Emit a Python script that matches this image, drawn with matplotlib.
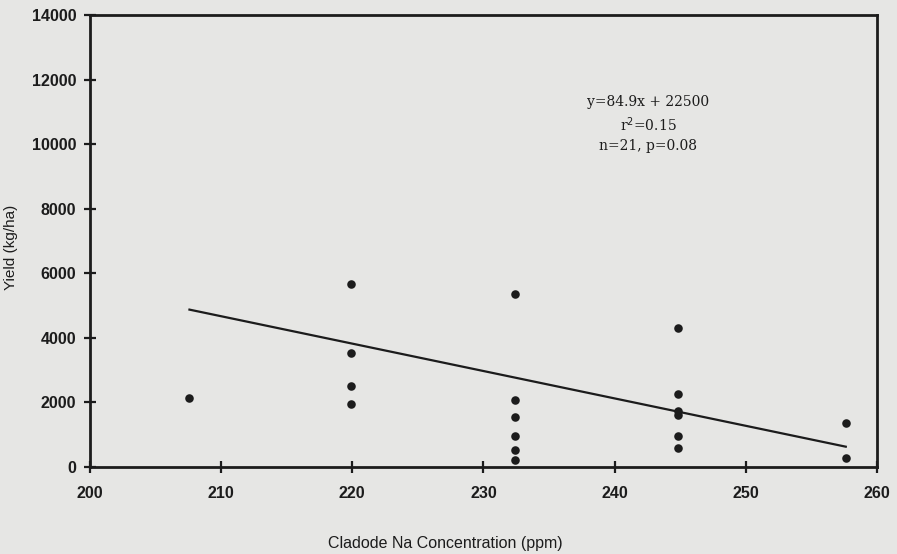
import matplotlib
matplotlib.use('Agg')
import matplotlib.pyplot as plt
import numpy as np

# Cladode Na (ppm) vs fruit yield (kg/ha)
na_conc = [207.6,
           219.9, 219.9, 219.9, 219.9,
           232.4, 232.4, 232.4, 232.4, 232.4, 232.4,
           244.8, 244.8, 244.8, 244.8, 244.8, 244.8,
           257.6, 257.6]
yield_kg = [2130,
            5680, 3520, 2500, 1940,
            5370, 2070, 1560, 950, 520, 230,
            4300, 2250, 1730, 1610, 960, 580,
            1350, 280]

# regression printed on the figure
slope = -84.9
intercept = 22500
fit_text = 'y=84.9x + 22500\nr$^2$=0.15\nn=21, p=0.08'

x_ticks = [200, 210, 220, 230, 240, 250, 260]
y_ticks = [0, 2000, 4000, 6000, 8000, 10000, 12000, 14000]

ink = '#1c1c1c'
paper = '#e6e6e4'

fig = plt.figure(figsize=(8.97, 5.54), dpi=100, facecolor=paper)
ax = fig.add_axes([0.100, 0.157, 0.878, 0.816])
ax.set_facecolor(paper)

ax.scatter(na_conc, yield_kg, s=38, color=ink, zorder=3, linewidths=0)

# fitted line across the data range
xf = np.array([min(na_conc), max(na_conc)])
ax.plot(xf, slope * xf + intercept, color=ink, lw=1.6, zorder=2)

ax.set_xlim(200, 260)
ax.set_ylim(0, 14000)
ax.set_xticks(x_ticks)
ax.set_yticks(y_ticks)

for sp in ax.spines.values():
    sp.set_linewidth(2.0)
    sp.set_color(ink)

ax.tick_params(direction='inout', length=8.5, width=1.6, color=ink,
               labelcolor=ink, top=False, right=False)
ax.tick_params(axis='y', pad=5.5)
ax.tick_params(axis='x', pad=9.5)
for lab in ax.get_xticklabels() + ax.get_yticklabels():
    lab.set_fontfamily('Liberation Sans')
    lab.set_fontweight('bold')
    lab.set_fontsize(11.5)

ax.set_xlabel('Cladode Na Concentration (ppm)', fontsize=11.5, family='Liberation Sans', color=ink)
ax.xaxis.set_label_coords(0.451, -0.153)
ax.set_ylabel('Yield (kg/ha)', fontsize=11, family='Liberation Sans', color=ink)
ax.yaxis.set_label_coords(-0.0915, 0.485)

ax.text(0.709, 0.759, fit_text, transform=ax.transAxes, ha='center', va='center',
        multialignment='center', fontsize=10, family='DejaVu Serif', color=ink,
        linespacing=1.4)

fig.savefig('out.png', dpi=100, facecolor=paper)
